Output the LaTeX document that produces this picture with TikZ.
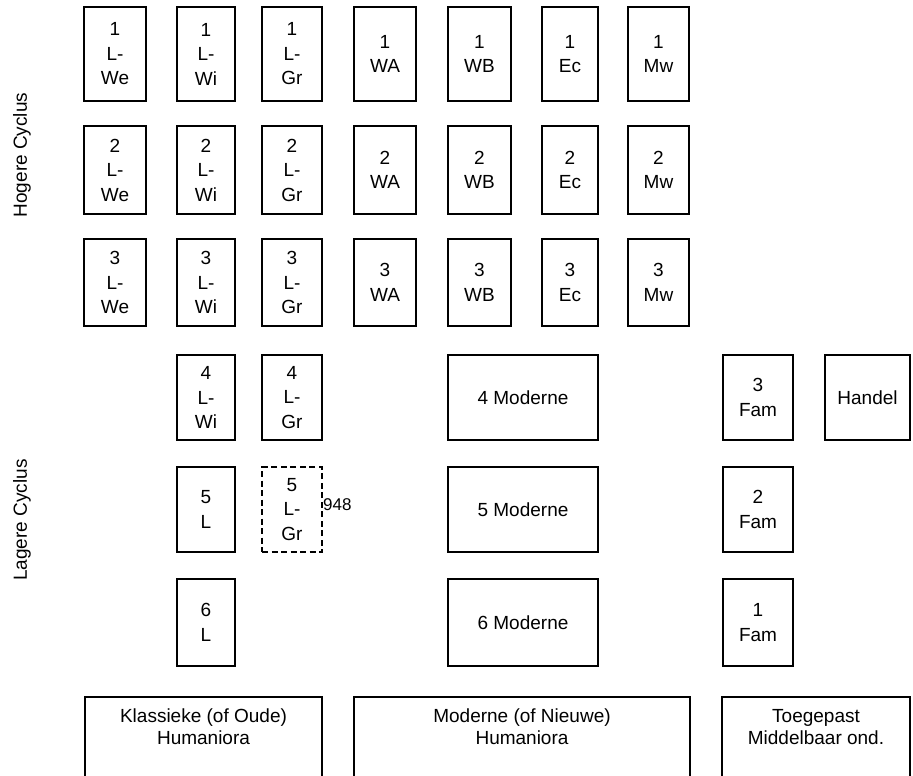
\documentclass[tikz,border=0pt]{standalone}
\usepackage{fontspec}
\setmainfont{Liberation Sans}
\begin{document}
\begin{tikzpicture}[x=1pt,y=-1pt,
  box/.style={draw=black, line width=2.5pt, rectangle, inner sep=0pt,
    align=center, font=\fontsize{19}{24.5}\selectfont},
  dashbox/.style={box, line width=2.8pt, dash pattern=on 6pt off 3.5pt},
  txt/.style={inner sep=0pt, align=center, font=\fontsize{19}{22}\selectfont},
  side/.style={inner sep=0pt, font=\fontsize{19}{22}\selectfont, rotate=90},
  note/.style={inner sep=0pt, font=\fontsize{17}{20}\selectfont, anchor=west},
  % column widths
  cA/.style={minimum width=62pt}, cB/.style={minimum width=58pt},
  cC/.style={minimum width=60pt}, cD/.style={minimum width=62pt},
  cE/.style={minimum width=63pt}, cF/.style={minimum width=56pt},
  cG/.style={minimum width=61pt}, cM/.style={minimum width=150pt},
  cH/.style={minimum width=70pt},
  % row heights
  rA/.style={minimum height=94pt}, rB/.style={minimum height=88pt},
  rC/.style={minimum height=87pt}, rD/.style={minimum height=85pt},
  rE/.style={minimum height=85pt}, rF/.style={minimum height=87pt}]

\useasboundingbox (0,0) rectangle (913,776);
\clip (0,0) rectangle (913,776);

% side labels
\node[side] (hc) at (22,155) {Hogere Cyclus};
\node[side] (lc) at (22,520) {Lagere Cyclus};

% higher cycle: years 1-3
\node[box,cA,rA] (we1) at (115,54) {1\\L-\\We};
\node[box,cB,rA] (wi1) at (206,54) {1\\L-\\Wi};
\node[box,cC,rA] (gr1) at (292,54) {1\\L-\\Gr};
\node[box,cD,rA] (wa1) at (385,54) {1\\WA};
\node[box,cE,rA] (wb1) at (479.5,54) {1\\WB};
\node[box,cF,rA] (ec1) at (570,54) {1\\Ec};
\node[box,cG,rA] (mw1) at (658.5,54) {1\\Mw};

\node[box,cA,rB] (we2) at (115,170) {2\\L-\\We};
\node[box,cB,rB] (wi2) at (206,170) {2\\L-\\Wi};
\node[box,cC,rB] (gr2) at (292,170) {2\\L-\\Gr};
\node[box,cD,rB] (wa2) at (385,170) {2\\WA};
\node[box,cE,rB] (wb2) at (479.5,170) {2\\WB};
\node[box,cF,rB] (ec2) at (570,170) {2\\Ec};
\node[box,cG,rB] (mw2) at (658.5,170) {2\\Mw};

\node[box,cA,rC] (we3) at (115,282.5) {3\\L-\\We};
\node[box,cB,rC] (wi3) at (206,282.5) {3\\L-\\Wi};
\node[box,cC,rC] (gr3) at (292,282.5) {3\\L-\\Gr};
\node[box,cD,rC] (wa3) at (385,282.5) {3\\WA};
\node[box,cE,rC] (wb3) at (479.5,282.5) {3\\WB};
\node[box,cF,rC] (ec3) at (570,282.5) {3\\Ec};
\node[box,cG,rC] (mw3) at (658.5,282.5) {3\\Mw};

% lower cycle: years 4-6
\node[box,cB,rD] (wi4) at (206,397.5) {4\\L-\\Wi};
\node[box,cC,rD] (gr4) at (292,397.5) {4\\L-\\Gr};
\node[box,cM,rD] (mo4) at (523,397.5) {4 Moderne};
\node[box,cH,rD] (fa3) at (758,397.5) {3\\Fam};
\node[box,minimum width=85pt,rD] (ha) at (867.5,397.5) {Handel};

\node[box,cB,rE] (l5) at (206,509.5) {5\\L};
\node[dashbox,cC,rE] (gr5) at (292,509.5) {5\\L-\\Gr};
\node[note] (yr) at (323,505) {948};
\node[box,cM,rE] (mo5) at (523,509.5) {5 Moderne};
\node[box,cH,rE] (fa2) at (758,509.5) {2\\Fam};

\node[box,cB,rF] (l6) at (206,622.5) {6\\L};
\node[box,cM,rF] (mo6) at (523,622.5) {6 Moderne};
\node[box,cH,rF] (fa1) at (758,622.5) {1\\Fam};

% school types along the bottom
\node[box,minimum width=237pt,minimum height=100pt] (kh) at (203.5,747) {};
\node[box,minimum width=336pt,minimum height=100pt] (mh) at (522,747) {};
\node[box,minimum width=188pt,minimum height=100pt] (tm) at (816,747) {};
\node[txt] (khT) at (203.5,727) {Klassieke (of Oude)\\Humaniora};
\node[txt] (mhT) at (522,727) {Moderne (of Nieuwe)\\Humaniora};
\node[txt] (tmT) at (816,727) {Toegepast\\Middelbaar ond.};
\end{tikzpicture}
\end{document}
